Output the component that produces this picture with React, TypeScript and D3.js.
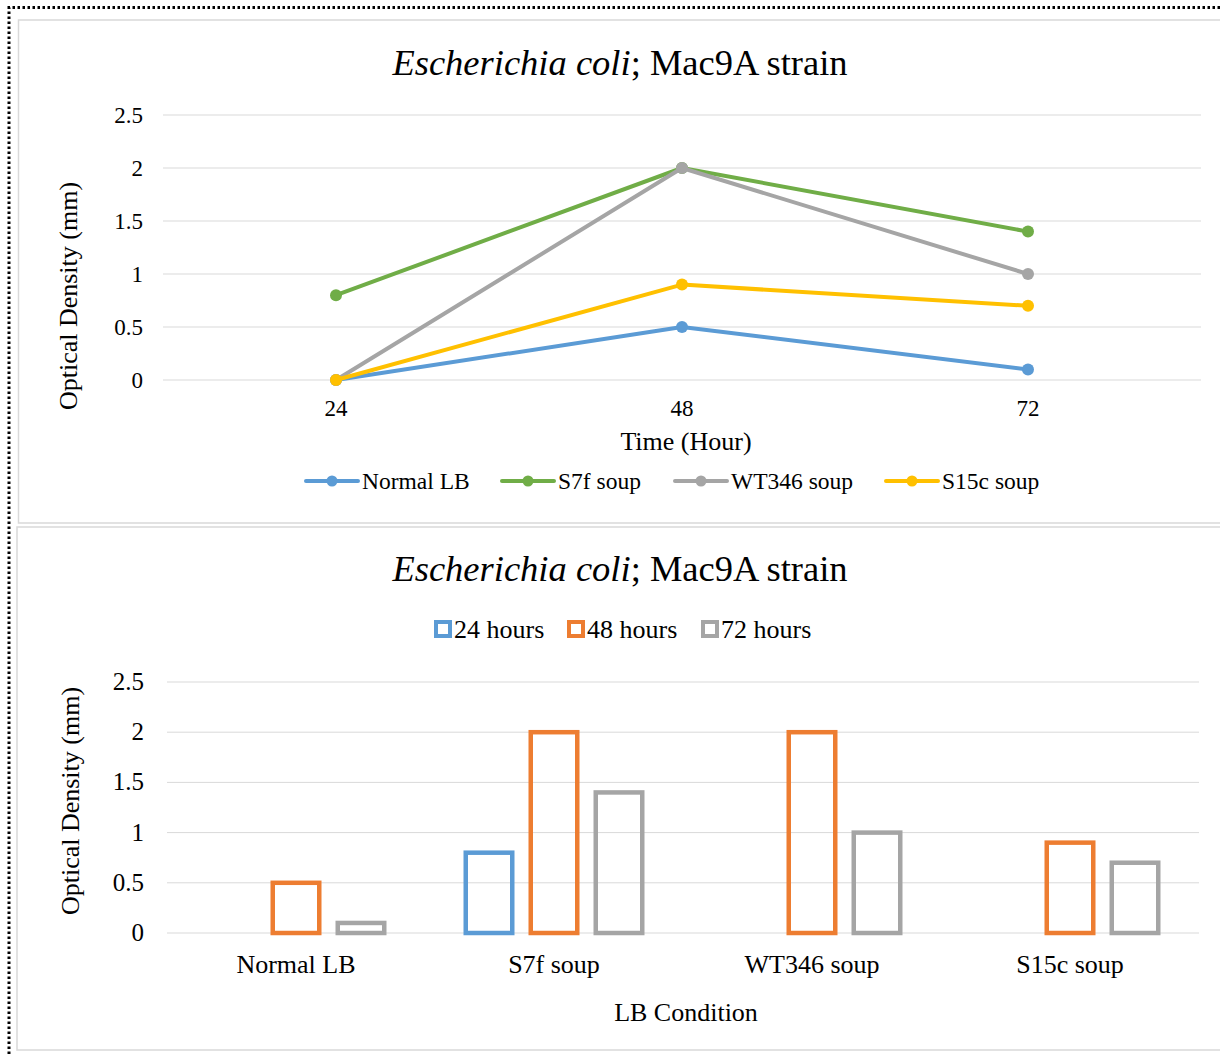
import React from "react";
import * as d3 from "d3";

const times = ["24", "48", "72"];
const seriesNames = ["Normal LB", "S7f soup", "WT346 soup", "S15c soup"];
const normalLB = [0, 0.5, 0.1];
const s7fSoup = [0.8, 2.0, 1.4];
const wt346Soup = [0, 2.0, 1.0];
const s15cSoup = [0, 0.9, 0.7];
const lineColors = ["#5B9BD5", "#70AD47", "#A5A5A5", "#FFC000"];
const yTicks = [0, 0.5, 1, 1.5, 2, 2.5];
const barSeries = ["24 hours", "48 hours", "72 hours"];
const barColors = ["#5B9BD5", "#ED7D31", "#A5A5A5"];

const FONT = "'Liberation Serif', 'Times New Roman', serif";

function Title({ x, y }: { x: number; y: number }) {
  return (
    <text x={x} y={y} textAnchor="middle" fontSize={36.5} fontFamily={FONT} fill="#000">
      <tspan fontStyle="italic">Escherichia coli</tspan>
      <tspan>; Mac9A strain</tspan>
    </text>
  );
}

export default function App() {
  const lineData = [normalLB, s7fSoup, wt346Soup, s15cSoup];

  // top chart scales
  const xTop = d3.scalePoint<string>().domain(times).range([163, 1201]).padding(0.5);
  const yTop = d3.scaleLinear().domain([0, 2.5]).range([380, 115]);
  const lineGen = d3
    .line<number>()
    .x((_, i) => xTop(times[i]) as number)
    .y((d) => yTop(d));

  // bottom chart scales
  const xBot = d3.scaleBand<string>().domain(seriesNames).range([167, 1199]).paddingInner(0).paddingOuter(0);
  const pIn = 14 / 65;
  const xInner = d3.scaleBand<string>().domain(barSeries).range([-97.5, 97.5]).paddingInner(pIn).paddingOuter(pIn / 2);
  const yBot = d3.scaleLinear().domain([0, 2.5]).range([933, 682]);
  const barData = barSeries.map((_, si) => seriesNames.map((_, ci) => lineData[ci][si]));
  const sw = 4.5;

  const topLegendX = [306, 502, 675, 886];
  const botLegendX = [434, 567, 701];

  return (
    <svg
      width={1220}
      height={1054}
      style={{ position: "absolute", left: 0, top: 0, background: "#fff" }}
      fontFamily={FONT}
    >
      <rect x={0} y={0} width={1220} height={1054} fill="#fff" />
      {/* dotted outer border */}
      <path d="M9,1054 V7.5 H1220" fill="none" stroke="#000" strokeWidth={3} strokeDasharray="2.5 2.5" />
      {/* chart boxes */}
      <path d="M1221,20 H18.5 V523 H1221" fill="none" stroke="#d9d9d9" strokeWidth={1.5} />
      <path d="M1221,527 H17 V1050 H1221" fill="none" stroke="#d9d9d9" strokeWidth={1.5} />

      {/* ===== TOP CHART ===== */}
      <Title x={620} y={75} />
      {yTicks.map((t) => (
        <g key={"tg" + t}>
          <line x1={163} x2={1201} y1={yTop(t)} y2={yTop(t)} stroke="#d9d9d9" strokeWidth={1} />
          <text x={143} y={yTop(t) + 7.5} textAnchor="end" fontSize={23} fill="#000">
            {t}
          </text>
        </g>
      ))}
      {times.map((t) => (
        <text key={"tx" + t} x={xTop(t)} y={416} textAnchor="middle" fontSize={23} fill="#000">
          {t}
        </text>
      ))}
      <text x={686} y={450} textAnchor="middle" fontSize={26} fill="#000">
        Time (Hour)
      </text>
      <text
        transform={`translate(77,296) rotate(-90)`}
        textAnchor="middle"
        fontSize={26}
        fill="#000"
      >
        Optical Density (mm)
      </text>
      {lineData.map((vals, si) => (
        <g key={"ls" + si}>
          <path d={lineGen(vals) || ""} fill="none" stroke={lineColors[si]} strokeWidth={4} strokeLinejoin="round" strokeLinecap="round" />
          {vals.map((v, i) => (
            <circle key={i} cx={xTop(times[i])} cy={yTop(v)} r={6} fill={lineColors[si]} />
          ))}
        </g>
      ))}
      {seriesNames.map((n, si) => (
        <g key={"tl" + si}>
          <line x1={topLegendX[si]} x2={topLegendX[si] + 52} y1={481} y2={481} stroke={lineColors[si]} strokeWidth={4} strokeLinecap="round" />
          <circle cx={topLegendX[si] + 26} cy={481} r={5.5} fill={lineColors[si]} />
          <text x={topLegendX[si] + 56} y={489} fontSize={23.5} fill="#000">
            {n}
          </text>
        </g>
      ))}

      {/* ===== BOTTOM CHART ===== */}
      <Title x={620} y={581} />
      {barSeries.map((n, si) => (
        <g key={"bl" + si}>
          <rect x={botLegendX[si] + 2} y={622} width={14} height={14} fill="#fff" stroke={barColors[si]} strokeWidth={4} />
          <text x={botLegendX[si] + 20} y={638} fontSize={26} fill="#000">
            {n}
          </text>
        </g>
      ))}
      {yTicks.map((t) => (
        <g key={"bg" + t}>
          <line x1={167} x2={1199} y1={yBot(t)} y2={yBot(t)} stroke="#d9d9d9" strokeWidth={1} />
          <text x={144} y={yBot(t) + 8} textAnchor="end" fontSize={25} fill="#000">
            {t}
          </text>
        </g>
      ))}
      {seriesNames.map((c) => (
        <text key={"bx" + c} x={(xBot(c) as number) + xBot.bandwidth() / 2} y={973} textAnchor="middle" fontSize={26} fill="#000">
          {c}
        </text>
      ))}
      <text x={686} y={1021} textAnchor="middle" fontSize={26} fill="#000">
        LB Condition
      </text>
      <text
        transform={`translate(79,801) rotate(-90)`}
        textAnchor="middle"
        fontSize={26}
        fill="#000"
      >
        Optical Density (mm)
      </text>
      {barData.map((vals, si) => (
        <g key={"bs" + si}>
          {vals.map((v, ci) => {
            if (v <= 0) return null;
            const cx = (xBot(seriesNames[ci]) as number) + xBot.bandwidth() / 2;
            const x0 = cx + (xInner(barSeries[si]) as number);
            return (
              <rect
                key={ci}
                x={x0 + sw / 2}
                y={yBot(v)}
                width={xInner.bandwidth() - sw}
                height={yBot(0) - yBot(v)}
                fill="none"
                stroke={barColors[si]}
                strokeWidth={sw}
              />
            );
          })}
        </g>
      ))}
    </svg>
  );
}
